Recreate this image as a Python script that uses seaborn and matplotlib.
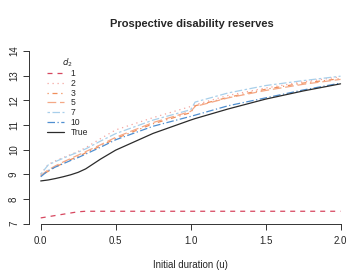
import pandas as pd
import seaborn as sns
import matplotlib.pyplot as plt
from matplotlib.lines import Line2D

# === Data ===
u = [0.0, 0.05, 0.1, 0.15, 0.2, 0.25, 0.3, 0.4, 0.5, 0.75, 1.0, 1.03, 1.25, 1.5, 1.75, 2.0]

d1 = [7.23, 7.28, 7.33, 7.38, 7.43, 7.48, 7.5, 7.5, 7.5, 7.5, 7.5, 7.5, 7.5, 7.5, 7.5, 7.5]
d2 = [9.0, 9.4, 9.55, 9.68, 9.8, 9.93, 10.08, 10.45, 10.8, 11.3, 11.75, 11.82, 12.2, 12.5, 12.75, 12.95]
d3 = [8.95, 9.12, 9.3, 9.45, 9.6, 9.72, 9.87, 10.15, 10.45, 11.05, 11.5, 11.78, 12.12, 12.45, 12.7, 12.88]
d5 = [8.95, 9.18, 9.35, 9.5, 9.64, 9.78, 9.92, 10.2, 10.5, 11.1, 11.55, 11.75, 12.1, 12.4, 12.65, 12.85]
d7 = [9.0, 9.38, 9.52, 9.65, 9.78, 9.9, 10.03, 10.35, 10.65, 11.2, 11.62, 11.93, 12.3, 12.6, 12.8, 12.98]
d10 = [8.9, 9.15, 9.3, 9.43, 9.56, 9.68, 9.82, 10.1, 10.4, 10.95, 11.35, 11.4, 11.78, 12.1, 12.42, 12.7]
true_vals = [8.73, 8.77, 8.83, 8.9, 8.98, 9.08, 9.22, 9.62, 9.98, 10.66, 11.2, 11.26, 11.65, 12.05, 12.38, 12.67]

labels = ["1", "2", "3", "5", "7", "10", "True"]
series = [d1, d2, d3, d5, d7, d10, true_vals]

# === Styles (R lty look-alikes) ===
colors = ["#D7475F", "#F4A6A0", "#F08E5A", "#F4A886", "#A8CFEA", "#4F8FD0", "#2B2B2B"]
dashes = [(4, 4), (1, 3), (1, 3, 4, 3), (7, 3), (2, 2, 6, 2), (6, 2, 1, 2), None]

df = pd.DataFrame({
    "u": u * len(labels),
    "value": sum(series, []),
    "d": [lab for lab in labels for _ in u],
})

sns.set_style("white")
plt.rcParams["font.family"] = ["Liberation Sans", "DejaVu Sans"]

fig = plt.figure(figsize=(3.59, 2.73), dpi=100)
ax = fig.add_axes([0.080, 0.181, 0.902, 0.632])

handles = []
for lab, col, ds in zip(labels, colors, dashes):
    sub = df[df["d"] == lab]
    sns.lineplot(data=sub, x="u", y="value", ax=ax, color=col, lw=0.9,
                 legend=False, estimator=None, sort=False)
    line = ax.lines[-1]
    if ds is not None:
        line.set_dashes(ds)
    handles.append(Line2D([0], [0], color=col, lw=0.9,
                          dashes=ds if ds is not None else (None, None)))

ax.set_xlim(-0.08, 2.08)
ax.set_ylim(7, 14)
ax.set_xticks([0.0, 0.5, 1.0, 1.5, 2.0])
ax.set_xticklabels(["0.0", "0.5", "1.0", "1.5", "2.0"])
ax.set_yticks(range(7, 15))
ax.tick_params(axis="x", pad=5)
ax.tick_params(axis="y", pad=3)
ax.tick_params(axis="both", direction="out", length=4, width=0.7,
               labelsize=7, color="#333333", left=True, bottom=True)
for lbl in ax.get_yticklabels():
    lbl.set_rotation(90)
    lbl.set_va("center")

sns.despine(ax=ax, top=True, right=True)
ax.spines["left"].set_bounds(7, 14)
ax.spines["bottom"].set_bounds(0, 2)
for s in ["left", "bottom"]:
    ax.spines[s].set_linewidth(0.7)
    ax.spines[s].set_color("#333333")

ax.set_xlabel("Initial duration (u)", fontsize=7, labelpad=10)
ax.set_ylabel("")
fig.suptitle("Prospective disability reserves", fontsize=8, fontweight="bold",
             x=0.535, y=0.912, va="center")

leg = ax.legend(handles, labels, title="$d_2$", loc="upper left",
                bbox_to_anchor=(0.045, 0.99), frameon=False, fontsize=6.2,
                title_fontsize=6.2, handlelength=2.0, handletextpad=0.8,
                labelspacing=0.08, borderaxespad=0.0)

plt.savefig("out.png", dpi=100)
plt.close()
